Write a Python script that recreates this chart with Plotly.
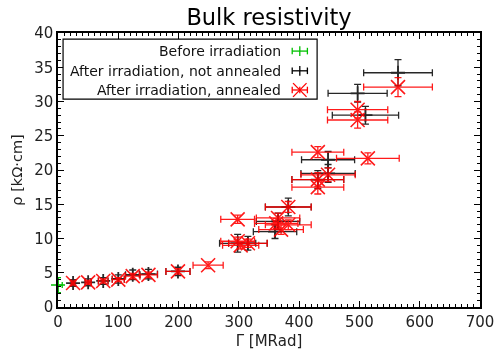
import plotly.graph_objects as go

# Before irradiation
before_x = [0]
before_y = [3.2]
before_xerr = [7]
before_yerr = [1.1]

# After irradiation, not annealed
na_x = [25, 50, 75, 100, 124, 150, 199, 298, 315, 360, 365, 382, 448, 431, 448, 497, 510, 564]
na_y = [3.5, 3.6, 3.8, 4.1, 4.7, 4.8, 5.2, 9.3, 9.3, 11.0, 12.5, 14.6, 21.5, 18.6, 19.5, 31.2, 28.0, 34.2]
na_xerr = [3, 5, 8, 10, 12, 15, 20, 30, 32, 36, 36, 38, 44, 43, 45, 49, 55, 57]
na_yerr = [0.5, 0.5, 0.5, 0.6, 0.7, 0.7, 0.6, 1.3, 1.0, 1.0, 1.2, 1.3, 1.2, 1.3, 1.3, 1.3, 1.3, 1.9]

# After irradiation, annealed
an_x = [25, 50, 75, 100, 124, 150, 199, 249, 298, 298, 303, 315, 362, 365, 370, 382, 382,
        431, 514, 448, 431, 431, 497, 497, 564]
an_y = [3.5, 3.6, 3.8, 4.0, 4.5, 4.7, 5.2, 6.1, 12.8, 9.6, 9.0, 9.3, 12.2, 13.0, 11.3, 12.0, 14.6,
        22.6, 21.7, 19.3, 18.6, 17.5, 28.8, 27.3, 32.1]
an_xerr = [3, 5, 8, 10, 12, 15, 20, 25, 28, 28, 30, 32, 36, 36, 37, 38, 38,
           43, 52, 45, 43, 43, 50, 50, 57]
an_yerr = [0.3, 0.3, 0.3, 0.3, 0.4, 0.4, 0.4, 0.5, 0.6, 0.6, 0.5, 0.6, 0.7, 0.7, 0.7, 0.7, 0.8,
           0.8, 0.8, 1.0, 1.0, 1.0, 1.2, 1.2, 1.4]

legend_labels = ["Before irradiation", "After irradiation, not annealed", "After irradiation, annealed"]
colors = ["#00c000", "black", "rgb(255,0,0)"]

FONT = "DejaVu Sans"

fig = go.Figure()

fig.add_trace(go.Scatter(
    x=na_x, y=na_y, mode="markers", name=legend_labels[1],
    marker=dict(symbol="cross-thin-open", size=10, color=colors[1], line=dict(color=colors[1], width=1.8)),
    error_x=dict(type="data", array=na_xerr, color=colors[1], thickness=1.3, width=3.5),
    error_y=dict(type="data", array=na_yerr, color=colors[1], thickness=1.3, width=3.5),
    showlegend=False, opacity=0.85,
))
fig.add_trace(go.Scatter(
    x=an_x, y=an_y, mode="markers", name=legend_labels[2],
    marker=dict(symbol="x-thin-open", size=14, color=colors[2], line=dict(color=colors[2], width=1.6)),
    error_x=dict(type="data", array=an_xerr, color=colors[2], thickness=1.3, width=3.5),
    error_y=dict(type="data", array=an_yerr, color=colors[2], thickness=1.3, width=3.5),
    showlegend=False, opacity=0.9,
))
fig.add_trace(go.Scatter(
    x=before_x, y=before_y, mode="markers", name=legend_labels[0],
    marker=dict(symbol="cross-thin-open", size=10, color=colors[0], line=dict(color=colors[0], width=1.5)),
    error_x=dict(type="data", array=before_xerr, color=colors[0], thickness=1.3, width=3),
    error_y=dict(type="data", array=before_yerr, color=colors[0], thickness=1.3, width=3),
    showlegend=False, cliponaxis=False,
))

# Custom gnuplot-style legend (text right-aligned, sample on the right)
shapes = [dict(type="rect", xref="paper", yref="paper", x0=0.012, x1=0.614, y0=0.759, y1=0.978,
               line=dict(color="black", width=1.2), fillcolor="white", layer="above")]
annotations = []
rows_y = [0.934, 0.862, 0.792]
sx, hw, hh = 0.573, 0.018, 0.018
for i, (lab, col) in enumerate(zip(legend_labels, colors)):
    yy = rows_y[i]
    annotations.append(dict(text=lab, xref="paper", yref="paper", x=0.533, y=yy, xanchor="right",
                            yanchor="middle", showarrow=False, font=dict(family=FONT, size=14, color="#111")))
    shapes.append(dict(type="line", xref="paper", yref="paper", x0=sx - hw, x1=sx + hw, y0=yy, y1=yy,
                       line=dict(color=col, width=1.3), layer="above"))
    for xe in (sx - hw, sx + hw):
        shapes.append(dict(type="line", xref="paper", yref="paper", x0=xe, x1=xe, y0=yy - 0.012, y1=yy + 0.012,
                           line=dict(color=col, width=1.3), layer="above"))
    if i < 2:
        shapes.append(dict(type="line", xref="paper", yref="paper", x0=sx, x1=sx, y0=yy - hh, y1=yy + hh,
                           line=dict(color=col, width=1.3), layer="above"))
    else:
        shapes.append(dict(type="line", xref="paper", yref="paper", x0=sx - 0.016, x1=sx + 0.016,
                           y0=yy - 0.025, y1=yy + 0.025, line=dict(color=col, width=1.3), layer="above"))
        shapes.append(dict(type="line", xref="paper", yref="paper", x0=sx - 0.016, x1=sx + 0.016,
                           y0=yy + 0.025, y1=yy - 0.025, line=dict(color=col, width=1.3), layer="above"))
        shapes.append(dict(type="line", xref="paper", yref="paper", x0=sx, x1=sx, y0=yy - 0.012, y1=yy + 0.012,
                           line=dict(color=col, width=1.3), layer="above"))

axis_common = dict(
    showline=True, linecolor="black", linewidth=1.5, mirror="ticks",
    ticks="inside", ticklen=6, tickwidth=1, tickcolor="black",
    showgrid=False, zeroline=False, automargin=False,
    tickfont=dict(family=FONT, size=15, color="#222"),
)

fig.update_layout(
    width=498, height=357,
    margin=dict(l=58, r=18, t=33, b=50),
    paper_bgcolor="white", plot_bgcolor="white",
    title=dict(text="Bulk resistivity", xref="paper", x=0.5, xanchor="center", y=0.953, yanchor="middle",
               font=dict(family=FONT, size=22.5, color="black")),
    xaxis=dict(range=[0, 700], dtick=100,
               title=dict(text="Γ [MRad]", font=dict(family=FONT, size=15, color="#222"), standoff=6),
               minor=dict(ticks="inside", ticklen=3, dtick=10, tickcolor="black"), **axis_common),
    yaxis=dict(range=[0, 40], dtick=5,
               title=dict(text="ρ [kΩ·cm]", font=dict(family=FONT, size=14.5, color="#222"), standoff=8),
               minor=dict(ticks="inside", ticklen=3, dtick=1, tickcolor="black"), **axis_common),
    shapes=shapes, annotations=annotations,
    showlegend=False,
)

fig.write_html("out.html")
